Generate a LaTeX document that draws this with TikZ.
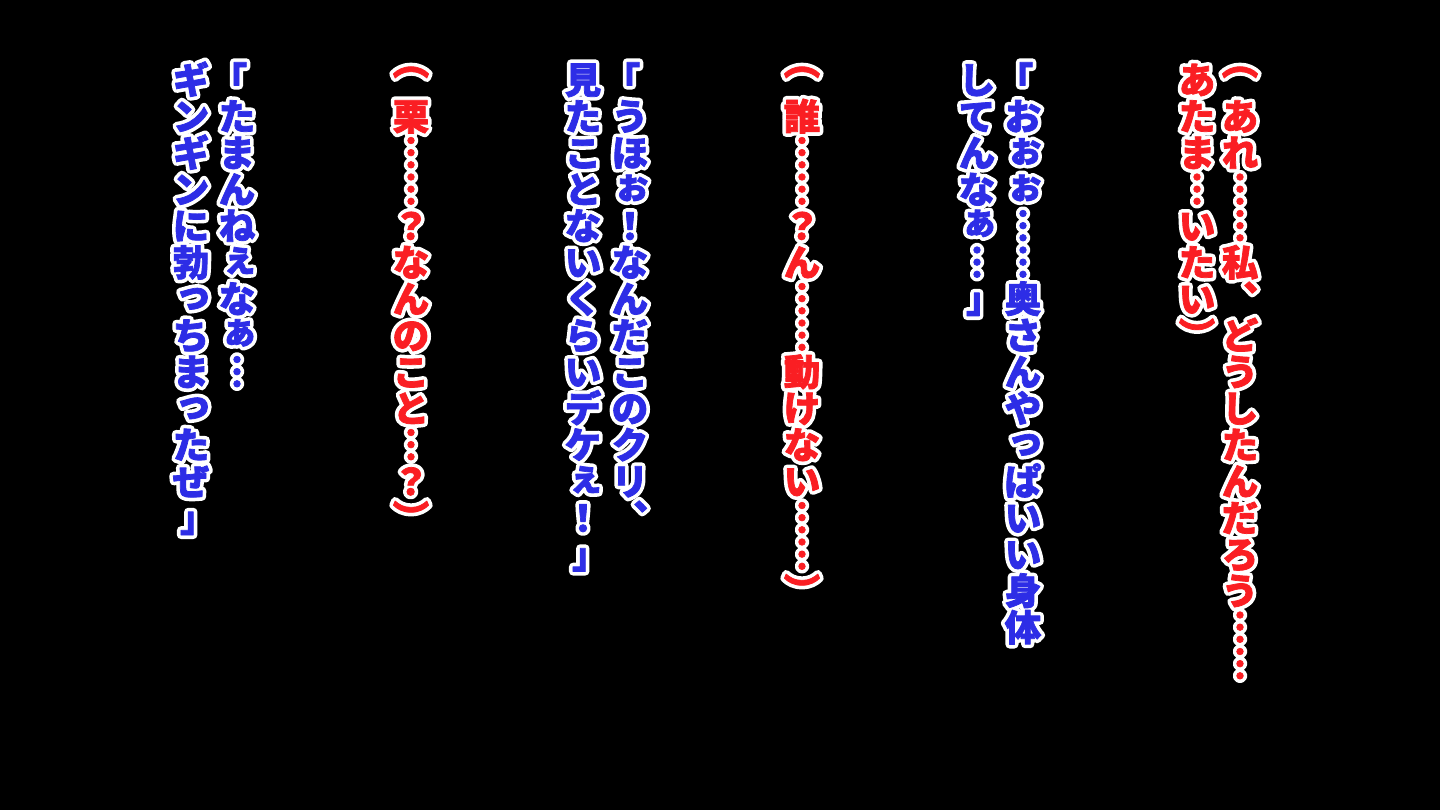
\documentclass[tikz,border=0pt]{standalone}
\usepackage{fontspec}
\newfontfamily\cjkfont[FakeBold=2]{Noto Sans CJK JP}
\newfontfamily\cjkrim[FakeBold=22]{Noto Sans CJK JP}
\definecolor{linered}{RGB}{250,30,35}
\definecolor{lineblue}{RGB}{45,45,230}
% one character per line, top to bottom
\makeatletter
\def\tatechar#1{\ifx\relax#1\else\tatebox{#1}\expandafter\tatechar\fi}
\def\tatebox#1{\hbox to 1em{\vrule width0pt height0.88em depth0.12em\hss\smash{\tateglyph{#1}}\hss}}
% small kana up and right, brackets to the middle
\def\tateglyph#1{%
  \in@{#1}{ぁぃぅぇぉっゃゅょ}%
  \ifin@\raise0.13em\hbox{\kern0.14em#1}\else
  \in@{#1}{「}%
  \ifin@\hbox{\kern-0.22em#1\kern0.22em}\else
  \in@{#1}{」}%
  \ifin@\hbox{\kern0.2em#1\kern-0.2em}\else
  \in@{#1}{︵}%
  \ifin@\raise0.5em\hbox{#1}\else
  #1\fi\fi\fi\fi}
\makeatother
\newcommand\tate[1]{\vbox{\offinterlineskip\expandafter\tatechar#1\relax}}
\begin{document}
\begin{tikzpicture}[x=0.5pt, y=-0.5pt,
    every node/.style={anchor=north, inner sep=0pt, line join=round},
    serif/.style={font=\cjkfont\bfseries\fontsize{18.25pt}{18.25pt}\selectfont},
    rim/.style={font=\cjkrim\bfseries\fontsize{18.25pt}{18.25pt}\selectfont, text=white}]
  \fill[black] (0,0) rectangle (1440,810);
  \useasboundingbox (0,0) rectangle (1440,810);

  \foreach \x/\c/\t in {
      1240/linered/{︵あれ︙︙私︑どうしたんだろう︙︙},
      1197/linered/{あたま︙いたい︶},
      1023/lineblue/{「おぉぉ︙︙奥さんやっぱいい身体},
      977/lineblue/{してんなぁ︙」},
      802/linered/{︵誰︙︙？ん︙︙動けない︙︙︶},
      630/lineblue/{「うほぉ！なんだこのクリ︑},
      583/lineblue/{見たことないくらいデケぇ！」},
      411/linered/{︵栗︙︙？なんのこと︙？︶},
      237/lineblue/{「たまんねぇなぁ︙},
      191/lineblue/{ギンギンに勃っちまったぜ」}} {
    \node[rim] (r\x) at (\x,61) {\tate{\t}};
    \node[serif, text=\c] (l\x) at (\x,61) {\tate{\t}};
  }
\end{tikzpicture}
\end{document}
